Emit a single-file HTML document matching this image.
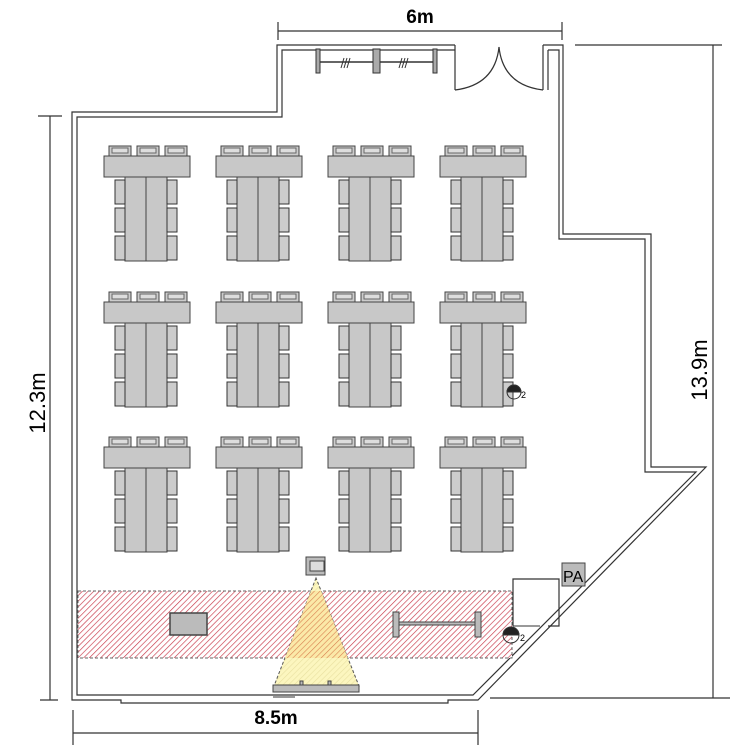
<!DOCTYPE html>
<html><head><meta charset="utf-8"><style>
html,body{margin:0;padding:0;background:#fff}
svg{display:block}
text{font-family:"Liberation Sans",sans-serif;fill:#000}
</style></head><body>
<svg id="s" width="750" height="750" viewBox="0 0 750 750" xmlns="http://www.w3.org/2000/svg">
<defs>
<pattern id="h" width="4" height="4" patternUnits="userSpaceOnUse" patternTransform="rotate(45)">
<rect width="4" height="4" fill="#fff"/><line x1="0" y1="0" x2="0" y2="4" stroke="#c83848" stroke-width="1.3"/>
</pattern>
<pattern id="h2" width="4" height="4" patternUnits="userSpaceOnUse" patternTransform="rotate(45)">
<rect width="4" height="4" fill="#fbe9a8"/><line x1="0" y1="0" x2="0" y2="4" stroke="#d88050" stroke-width="1.2"/>
</pattern>
<pattern id="h3" width="4" height="4" patternUnits="userSpaceOnUse" patternTransform="rotate(45)">
<rect width="4" height="4" fill="#fcf6bf"/><line x1="0" y1="0" x2="0" y2="4" stroke="#e8e0a0" stroke-width="1.2"/>
</pattern>
</defs>
<g fill="none" stroke="#333" stroke-width="1.2">
<polyline points="455,45 277,45 277,112 72,112 72,700 121,700 121,703 448,703 448,700 478,700 706,467 651,467 651,234 563,234 563,45 543,45"/>
<polyline points="455,50 282,50 282,117 77,117 77,695 121,695 448,695 473,695 696,472 645,472 645,239 559,239 559,50 548,50"/>
<line x1="455" y1="45" x2="455" y2="90"/>
<line x1="543" y1="45" x2="543" y2="90"/><line x1="548" y1="50" x2="548" y2="90"/>
<path d="M455,90 Q495,85 499,47"/><path d="M543,90 Q503,85 499,47"/>
<line x1="278" y1="31" x2="562" y2="31"/><line x1="278" y1="22" x2="278" y2="40"/><line x1="562" y1="22" x2="562" y2="40"/>
<line x1="50" y1="116" x2="50" y2="700"/><line x1="38" y1="116" x2="62" y2="116"/><line x1="40" y1="700" x2="58" y2="700"/>
<line x1="713" y1="45" x2="713" y2="698"/><line x1="575" y1="45" x2="722" y2="45"/><line x1="490" y1="698" x2="730" y2="698"/>
<line x1="73" y1="733" x2="478" y2="733"/><line x1="73" y1="710" x2="73" y2="745"/><line x1="478" y1="710" x2="478" y2="745"/>
</g>
<g stroke="#333" stroke-width="1">
<line x1="318" y1="62" x2="435" y2="62" stroke-width="1.5"/>
<rect x="316" y="49" width="4" height="24" fill="#aaa"/><rect x="373" y="49" width="7" height="24" fill="#aaa"/><rect x="433" y="49" width="4" height="24" fill="#aaa"/>
<path d="M341,68l3,-10M344,68l3,-10M347,68l3,-10M399,68l3,-10M402,68l3,-10M405,68l3,-10" fill="none"/>
</g>
<g id="tables"></g>
<rect x="78" y="591" width="434" height="67" fill="url(#h)" stroke="#666" stroke-dasharray="3,2"/>
<polygon points="316,578 274,686 359,686" fill="url(#h3)" stroke="#555" stroke-dasharray="3,2"/>
<clipPath id="c"><rect x="78" y="591" width="434" height="67"/></clipPath>
<polygon points="316,578 274,686 359,686" fill="url(#h2)" clip-path="url(#c)"/>
<rect x="170" y="613" width="37" height="22" fill="#bbb" stroke="#444" stroke-width="1.5"/>
<g stroke="#444" fill="#bbb">
<rect x="393" y="612" width="6" height="25"/><rect x="475" y="612" width="6" height="25"/><rect x="399" y="622" width="76" height="3"/>
<rect x="306" y="557" width="19" height="18"/><rect x="310" y="561" width="14" height="10" fill="#ddd"/>
<rect x="273" y="685" width="86" height="7"/><rect x="300" y="681" width="3" height="4"/><rect x="328" y="681" width="3" height="4"/>
</g>
<line x1="273" y1="697" x2="295" y2="697" stroke="#333"/>
<polyline points="513,626 513,579 559,579 559,626 548,626" fill="none" stroke="#333" stroke-width="1.2"/>
<line x1="513" y1="626" x2="540" y2="626" stroke="#333"/>
<rect x="562" y="563" width="23" height="23" fill="#bbb" stroke="#444"/>
<text x="563" y="582" font-size="16">PA</text>
<g stroke="#333" fill="none">
<circle cx="511" cy="635" r="8"/><path d="M503,635 a8,8 0 0 1 16,0z" fill="#222"/>
<circle cx="514" cy="392" r="7"/><path d="M507,392 a7,7 0 0 1 14,0z" fill="#222"/>
</g>
<text x="520" y="641" font-size="9">2</text><text x="521" y="398" font-size="9">2</text>
<text x="420" y="23" font-size="19" font-weight="bold" text-anchor="middle">6m</text>
<text x="276" y="724" font-size="19" font-weight="bold" text-anchor="middle">8.5m</text>
<text transform="translate(45,403) rotate(-90)" font-size="22" text-anchor="middle">12.3m</text>
<text transform="translate(707,370) rotate(-90)" font-size="22" text-anchor="middle">13.9m</text>
</svg>
<script>
var g=document.getElementById('tables'),s='';
function r(x,y,w,h,f,st){return '<rect x="'+x+'" y="'+y+'" width="'+w+'" height="'+h+'" fill="'+f+'" stroke="'+(st||'#444')+'" stroke-width="1"/>';}
[104,216,328,440].forEach(function(gx){[156,302,447].forEach(function(gy){
for(var i=0;i<3;i++){s+=r(gx+5+i*28,gy-10,22,10,'#ccc','#444');s+=r(gx+8+i*28,gy-8,16,5,'#ddd','#666');}
s+=r(gx,gy,86,21,'#c8c8c8');
s+=r(gx+21,gy+21,21,84,'#c8c8c8');s+=r(gx+42,gy+21,21,84,'#c8c8c8');
for(var j=0;j<3;j++){s+=r(gx+11,gy+24+j*28,10,24,'#ccc','#333');s+=r(gx+63,gy+24+j*28,10,24,'#ccc','#333');}
});});
g.innerHTML=s;
</script>
</body></html>
